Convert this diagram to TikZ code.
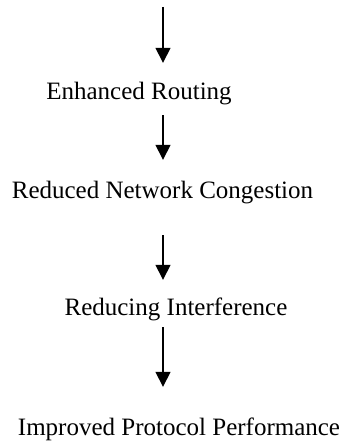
\documentclass[tikz,border=0pt]{standalone}
\usepackage{fontspec}
\setmainfont{Liberation Serif}
\usetikzlibrary{arrows.meta}
\begin{document}
\begin{tikzpicture}[x=1pt,y=-1pt,
  label/.style={anchor=base,inner sep=0pt,text height=18pt,text depth=6pt,
    font=\fontsize{25}{30}\selectfont},
  flow/.style={line width=1.5pt,-{Triangle[length=15pt,width=15pt]}}]
  \useasboundingbox (0,0) rectangle (346,444);
  % vertical axis the arrows run along
  \coordinate (start) at (163,7);
  \node[label] (er)  at (139,99)   {Enhanced Routing};
  \node[label] (rnc) at (162.5,198) {Reduced Network Congestion};
  \node[label] (ri)  at (176,315)  {Reducing Interference};
  \node[label] (ipp) at (179,435)  {Improved Protocol Performance};
  \draw[flow,shorten >=18pt] (start) -- (start |- er.north);
  \draw[flow,shorten <=10pt,shorten >=20pt] (start |- er.south) -- (start |- rnc.north);
  \draw[flow,shorten <=31pt,shorten >=17pt] (start |- rnc.south) -- (start |- ri.north);
  \draw[flow,shorten <=6pt,shorten >=30pt] (start |- ri.south) -- (start |- ipp.north);
\end{tikzpicture}
\end{document}
